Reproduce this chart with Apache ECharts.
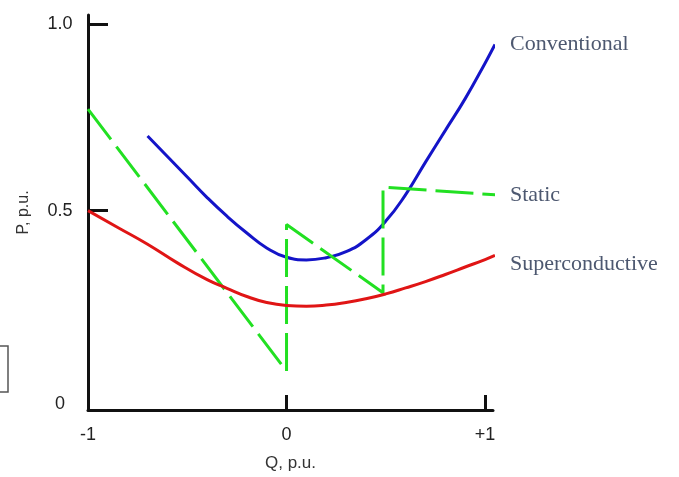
<!DOCTYPE html>
<html>
<head>
<meta charset="utf-8">
<script src="https://cdn.jsdelivr.net/npm/echarts@6/dist/echarts.min.js"></script>
<style>
  html, body { margin: 0; padding: 0; background: #fff; }
  #chart { width: 679px; height: 477px; }
</style>
</head>
<body>
<div id="chart"></div>
<script>
// Q (x) and P (y), per-unit
const conventionalQ = [-0.70, -0.6, -0.5, -0.4, -0.3, -0.2, -0.1, 0, 0.1, 0.2, 0.3, 0.4, 0.5, 0.6, 0.7, 0.8, 0.9, 1.0, 1.05];
const conventionalP = [0.70, 0.645, 0.59, 0.535, 0.485, 0.44, 0.40, 0.375, 0.368, 0.374, 0.39, 0.422, 0.472, 0.543, 0.63, 0.715, 0.80, 0.895, 0.945];

const superQ = [-1, -0.85, -0.7, -0.55, -0.4, -0.3, -0.2, -0.1, 0, 0.1, 0.2, 0.3, 0.4, 0.5, 0.6, 0.7, 0.8, 0.9, 1.0, 1.05];
const superP = [0.5, 0.455, 0.41, 0.36, 0.315, 0.292, 0.27, 0.254, 0.246, 0.244, 0.247, 0.254, 0.264, 0.277, 0.293, 0.31, 0.329, 0.349, 0.369, 0.38];

const staticQ = [-1, 0, 0, 0.486, 0.486, 1.06];
const staticP = [0.772, 0.07, 0.463, 0.28, 0.563, 0.542];

const xLabels = [-1, 0, 1];
const yLabels = [0, 0.5, 1];

function pairs(xs, ys) {
    return xs.map((x, i) => [x, ys[i]]);
}

const labelStyle = {
    show: true,
    formatter: '{a}',
    color: '#4d5870',
    fontFamily: 'Liberation Serif',
    fontSize: 22,
    distance: 15
};

option = {
    animation: false,
    grid: { left: 88, right: 186, top: 15, bottom: 62 },
    xAxis: {
        type: 'value',
        min: -1,
        max: 1.04,
        name: 'Q, p.u.',
        nameLocation: 'middle',
        nameGap: 45,
        nameTextStyle: { color: '#333', fontSize: 17, fontFamily: 'Liberation Sans' },
        axisLine: { show: true, onZero: false, lineStyle: { color: '#111', width: 3 } },
        axisTick: { show: true, inside: true, length: 15, customValues: [0, 1], lineStyle: { color: '#111', width: 3 } },
        axisLabel: {
            customValues: xLabels,
            margin: 16,
            color: '#222',
            fontSize: 18,
            fontFamily: 'Liberation Sans',
            formatter: v => (v === 1 ? '+1' : String(v))
        },
        splitLine: { show: false }
    },
    yAxis: {
        type: 'value',
        min: -0.034,
        max: 1.024,
        name: 'P, p.u.',
        nameLocation: 'middle',
        nameGap: 56,
        nameRotate: 90,
        nameTextStyle: { color: '#333', fontSize: 16, fontFamily: 'Liberation Sans' },
        axisLine: { show: true, onZero: false, lineStyle: { color: '#111', width: 3 } },
        axisTick: { show: true, inside: true, length: 20, customValues: [0.5, 1], lineStyle: { color: '#111', width: 3 } },
        axisLabel: {
            customValues: yLabels,
            margin: 28,
            align: 'center',
            color: '#222',
            fontSize: 18,
            fontFamily: 'Liberation Sans',
            formatter: v => (v === 0 ? '{z|0}' : v.toFixed(1)),
            rich: { z: { fontSize: 18, fontFamily: 'Liberation Sans', color: '#222', padding: [14, 0, 0, 0] } }
        },
        splitLine: { show: false }
    },
    graphic: [
        // clipped box at the left edge of the original figure
        { type: 'rect', shape: { x: -10, y: 346, width: 18, height: 46 }, style: { fill: '#fff', stroke: '#555', lineWidth: 1.5 } }
    ],
    series: [
        {
            name: 'Conventional',
            type: 'line',
            data: pairs(conventionalQ, conventionalP),
            smooth: true,
            showSymbol: false,
            clip: false,
            lineStyle: { color: '#1414c8', width: 3 },
            endLabel: Object.assign({}, labelStyle)
        },
        {
            name: 'Static',
            type: 'line',
            data: pairs(staticQ, staticP),
            showSymbol: false,
            clip: false,
            lineStyle: { color: '#22e022', width: 3, type: [38, 9] },
            endLabel: Object.assign({}, labelStyle)
        },
        {
            name: 'Superconductive',
            type: 'line',
            data: pairs(superQ, superP),
            smooth: true,
            showSymbol: false,
            clip: false,
            lineStyle: { color: '#e01515', width: 3 },
            endLabel: Object.assign({}, labelStyle, { offset: [0, 9] })
        }
    ]
};

chart = echarts.init(document.getElementById('chart'));
chart.setOption(option);
</script>
</body>
</html>
